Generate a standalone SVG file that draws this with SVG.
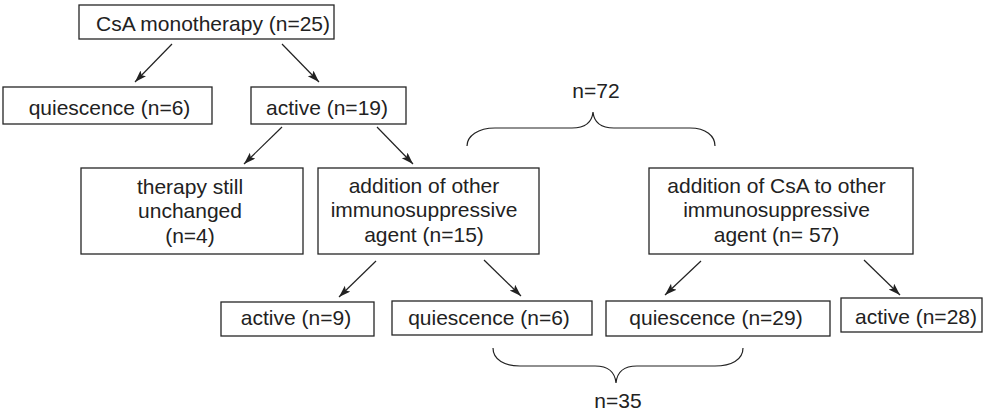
<svg xmlns="http://www.w3.org/2000/svg" width="986" height="412" viewBox="0 0 986 412">
<style>
  .box { fill: #ffffff; stroke: #262626; stroke-width: 1.3; }
  .t { font-family: "Liberation Sans", Arial, sans-serif; font-size: 21px; fill: #222222; text-anchor: middle; }
  .conn { stroke: #222222; stroke-width: 1.2; fill: none; }
  .brace { stroke: #222222; stroke-width: 1.2; fill: none; }
</style>
<defs>
  <marker id="ah" markerUnits="userSpaceOnUse" markerWidth="13" markerHeight="9" refX="12" refY="4" orient="auto">
    <path d="M0,0 L12,4 L0,8 L2.5,4 z" fill="#222222"/>
  </marker>
</defs>
<rect width="986" height="412" fill="#ffffff"/>

<g id="n-csa">
  <rect class="box" x="79" y="5" width="255" height="34"/>
  <text class="t" x="213" y="31">CsA monotherapy (n=25)</text>
</g>
<g id="n-quiescence-top">
  <rect class="box" x="3" y="87" width="209" height="37"/>
  <text class="t" x="109.5" y="115">quiescence (n=6)</text>
</g>
<g id="n-active-top">
  <rect class="box" x="251" y="87" width="155" height="37"/>
  <text class="t" x="327" y="115">active (n=19)</text>
</g>
<g id="n-unchanged">
  <rect class="box" x="81" y="168" width="222" height="86"/>
  <text class="t" x="190" y="194">therapy still</text>
  <text class="t" x="190" y="218">unchanged</text>
  <text class="t" x="190" y="243">(n=4)</text>
</g>
<g id="n-addition-other">
  <rect class="box" x="318" y="168" width="221" height="86"/>
  <text class="t" x="424" y="193">addition of other</text>
  <text class="t" x="424" y="217">immunosuppressive</text>
  <text class="t" x="424" y="242">agent (n=15)</text>
</g>
<g id="n-addition-csa">
  <rect class="box" x="649" y="168" width="264" height="86"/>
  <text class="t" x="776.5" y="193">addition of CsA to other</text>
  <text class="t" x="776.5" y="217">immunosuppressive</text>
  <text class="t" x="776.5" y="242">agent (n= 57)</text>
</g>
<g id="n-active-9">
  <rect class="box" x="221" y="302" width="153" height="34"/>
  <text class="t" x="296" y="325">active (n=9)</text>
</g>
<g id="n-quiescence-6">
  <rect class="box" x="392" y="301" width="200" height="34"/>
  <text class="t" x="489" y="325">quiescence (n=6)</text>
</g>
<g id="n-quiescence-29">
  <rect class="box" x="606" y="301" width="224" height="35"/>
  <text class="t" x="716" y="325">quiescence (n=29)</text>
</g>
<g id="n-active-28">
  <rect class="box" x="841" y="298" width="141" height="34"/>
  <text class="t" x="916" y="324">active (n=28)</text>
</g>

<g id="connectors">
  <line class="conn" x1="172" y1="44" x2="135" y2="82" marker-end="url(#ah)"/>
  <line class="conn" x1="282" y1="44" x2="319" y2="82" marker-end="url(#ah)"/>
  <line class="conn" x1="282" y1="127" x2="244" y2="164" marker-end="url(#ah)"/>
  <line class="conn" x1="377" y1="127" x2="413" y2="164" marker-end="url(#ah)"/>
  <line class="conn" x1="376" y1="261" x2="339" y2="297" marker-end="url(#ah)"/>
  <line class="conn" x1="484" y1="260" x2="521" y2="296" marker-end="url(#ah)"/>
  <line class="conn" x1="701" y1="261" x2="665" y2="295" marker-end="url(#ah)"/>
  <line class="conn" x1="864" y1="260" x2="900" y2="295" marker-end="url(#ah)"/>
</g>

<g id="brace-72">
  <path class="brace" d="M467,146 C467,136 478,128 495,128 L572,128 C585,128 592,122 593,112 C594,122 601,128 614,128 L690,128 C706,128 715,136 715,146"/>
  <text class="t" x="596" y="98">n=72</text>
</g>
<g id="brace-35">
  <path class="brace" d="M493,348 C493,360 505,366 520,366 L595,366 C608,366 615,372 616,383 C617,372 624,366 637,366 L715,366 C731,366 743,360 743,348"/>
  <text class="t" x="618" y="408">n=35</text>
</g>
</svg>
